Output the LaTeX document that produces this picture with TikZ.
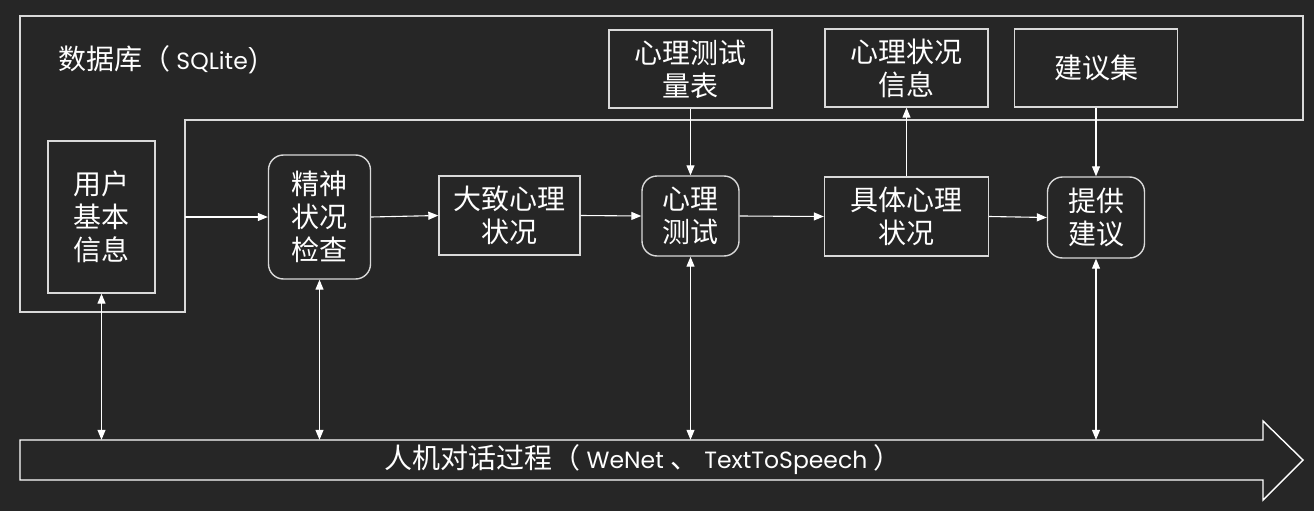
\documentclass[tikz,border=0pt]{standalone}
\usepackage{fontspec}
\setmainfont{Poppins}
\newfontfamily\cjk{Noto Sans CJK SC}
\usetikzlibrary{arrows.meta, positioning}
\definecolor{bg}{HTML}{262626}
\definecolor{edge}{HTML}{D9D9D9}
\newcommand{\zh}[1]{{\cjk\fontsize{28}{33}\selectfont #1}}
\tikzset{
  box/.style   = {draw=edge, line width=1.4pt, inner sep=0pt, align=center,
                  text=white, font=\cjk\fontsize{28}{33}\selectfont},
  rbox/.style  = {box, rounded corners=15pt},
  link/.style  = {-{Triangle[length=10pt, width=8pt]}, line width=1.1pt, white},
  both/.style  = {{Triangle[length=10pt, width=8pt]}-{Triangle[length=10pt, width=8pt]}, line width=1.1pt, white},
  frame/.style = {draw=edge, line width=1.4pt},
  lbl/.style   = {text=white, inner sep=0pt, font=\fontsize{23.5}{28}\selectfont},
}

\begin{document}
\begin{tikzpicture}[x=1pt, y=-1pt]
  \fill[bg] (0,0) rectangle (1314,511);
  \useasboundingbox (0,0) rectangle (1314,511);
  % database area
  \draw[frame] (20,16) -- (1303,16) -- (1303,120) -- (185,120) -- (185,312) -- (20,312) -- cycle;
  \coordinate (dbcorner) at (185,312);
  \node[lbl, anchor=west] (db) at (58,60) {\zh{数据库（} SQLite)};
  % stored data
  \node[box, minimum width=163pt, minimum height=78pt] (scale)  at (690.5,69) {心理测试\\量表};
  \node[box, minimum width=163pt, minimum height=78pt] (info)   at (906.5,68) {心理状况\\信息};
  \node[box, minimum width=163pt, minimum height=78pt] (adset)  at (1096,68)  {建议集};
  % main flow
  \node[box,  minimum width=107pt, minimum height=152pt] (user)   at (101.5,217) {用户\\基本\\信息};
  \node[rbox, minimum width=102pt, minimum height=124pt] (mind)   at (319.5,217) {精神\\状况\\检查};
  \node[box,  minimum width=141pt, minimum height=79pt]  (rough)  at (509.5,215.5) {大致心理\\状况};
  \node[rbox, minimum width=97pt,  minimum height=80pt]  (test)   at (690.5,216) {心理\\测试};
  \node[box,  minimum width=164pt, minimum height=79pt]  (detail) at (906.5,216.5) {具体心理\\状况};
  \node[rbox, minimum width=97pt,  minimum height=81pt]  (advise) at (1096,217.5) {提供\\建议};
  % dialogue bar
  \node[lbl, minimum width=1243pt, minimum height=40pt] (talk) at (643,460)
    {\zh{人机对话过程（} WeNet \zh{、} TextToSpeech \zh{）}};
  \draw[frame, draw=white] (20,440) -- (1263,440) -- (1263,421) -- (1303,460)
    -- (1263,500) -- (1263,480) -- (20,480) -- cycle;
  % connectors
  \draw[link] (mind.west -| dbcorner) -- (mind.west);
  \draw[link] (mind.east) -- (rough.west);
  \draw[link] (rough.east) -- (test.west);
  \draw[link] (test.east) -- (detail.west);
  \draw[link] (detail.east) -- (advise.west);
  \draw[link] (scale.south) -- (test.north);
  \draw[link] (detail.north) -- (info.south);
  \draw[link] (adset.south) -- (advise.north);
  \draw[both] (user.south) -- (user.south |- talk.north);
  \draw[both] (mind.south) -- (mind.south |- talk.north);
  \draw[both] (test.south) -- (test.south |- talk.north);
  \draw[both] (advise.south) -- (advise.south |- talk.north);
\end{tikzpicture}
\end{document}
